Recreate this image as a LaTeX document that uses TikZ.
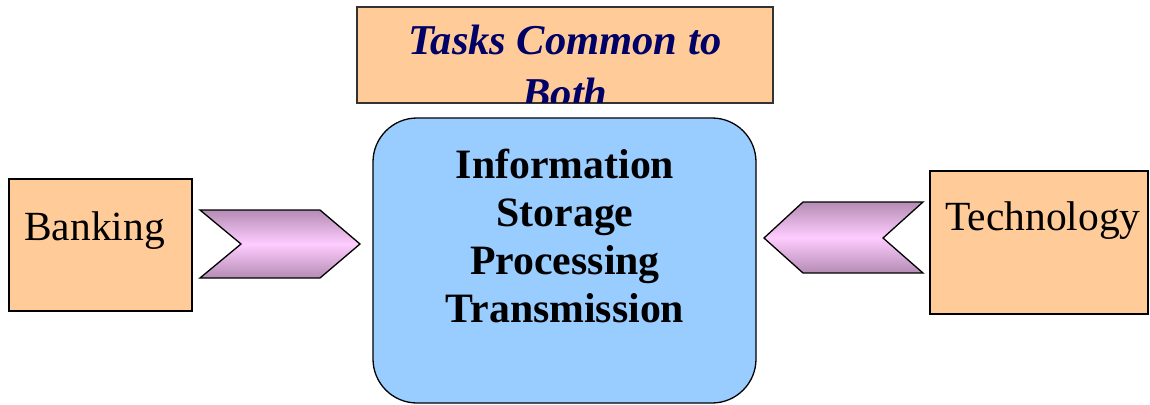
\documentclass[tikz,border=0pt]{standalone}
\usepackage{fontspec}
\setmainfont{Liberation Serif}
\definecolor{peach}{HTML}{FFCC99}
\definecolor{skyb}{HTML}{99CCFF}
\definecolor{navy}{HTML}{000066}
\definecolor{chevdark}{HTML}{B48CB4}
\definecolor{chevlight}{HTML}{FFCCFF}
\tikzset{
  peachbox/.style={draw=black, line width=1.3pt, fill=peach},
  chev/.style={draw=black, line width=1.3pt, line join=miter, top color=chevdark, bottom color=chevdark, middle color=chevlight},
  bigtxt/.style={font=\fontsize{41.5}{48}\selectfont, inner sep=0pt}
}
\begin{document}
\begin{tikzpicture}[x=1pt,y=-1pt]
\useasboundingbox (0,0) rectangle (1150,404);
\clip (0,0) rectangle (1150,404);
% top box
\draw[peachbox, draw=black!80] (357,7) rectangle (773,103);
\begin{scope}
  \clip (358,8) rectangle (772,102);
  \node[inner sep=0pt, align=center, text=navy, font=\fontsize{42.5}{53}\selectfont\bfseries\itshape] (tasks) at (565,66) {Tasks Common to\\Both};
\end{scope}
% centre box
\draw[draw=black, line width=1.3pt, fill=skyb, rounded corners=44pt] (373,118) rectangle (756,403);
\node[align=center, inner sep=0pt, font=\fontsize{41.8}{48}\selectfont\bfseries] (info) at (565,236) {Information\\Storage\\Processing\\Transmission};
% side boxes
\draw[peachbox] (9,179) rectangle (192,311);
\node[bigtxt, anchor=base west] (bank) at (24,240) {Banking};
\draw[peachbox] (930,171) rectangle (1148,314);
\node[bigtxt, anchor=base west] (tech) at (945,230) {Technology};
% chevrons
\draw[chev] (200,210) -- (320,210) -- (360,244) -- (320,278) -- (200,278) -- (241,244) -- cycle;
\draw[chev] (923,202) -- (803,202) -- (764,238) -- (803,273) -- (923,273) -- (883,238) -- cycle;
\end{tikzpicture}
\end{document}
